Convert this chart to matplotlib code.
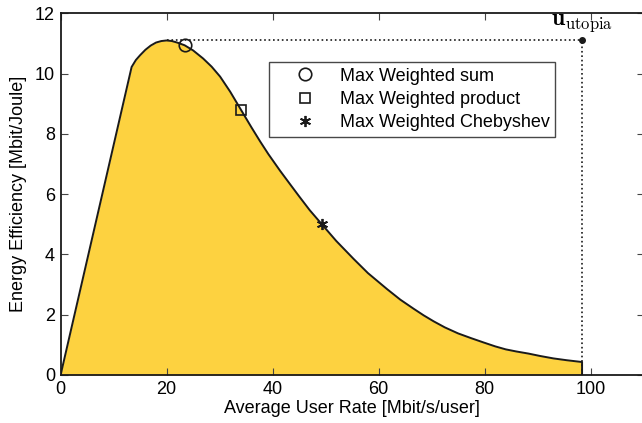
import matplotlib
matplotlib.use('Agg')
import matplotlib.pyplot as plt

plt.rcParams['font.family'] = ['Liberation Sans', 'DejaVu Sans']
plt.rcParams['mathtext.fontset'] = 'cm'

# Pareto boundary: average user rate vs energy efficiency
rate = [0, 13.4, 14.2, 15.0, 16.0, 17.0, 18.0, 19.0, 20.0, 21.0, 22.0, 23.4,
        25.0, 26.9, 28.5, 30.1, 32.0, 34.1, 36.0, 37.65, 39.2, 41.4, 43.3, 45.0,
        47.0, 49.3, 52.0, 55.3, 58.0, 61.6, 64.1, 66.6, 68.5, 70.4, 72.5, 75.0,
        77.5, 79.8, 82.0, 84.0, 86.0, 88.3, 90.5, 93.0, 95.5, 98.4, 98.4]
eff = [0, 10.22, 10.45, 10.61, 10.79, 10.93, 11.03, 11.08, 11.10, 11.08, 11.03, 10.94,
       10.77, 10.50, 10.23, 9.90, 9.40, 8.78, 8.22, 7.75, 7.33, 6.78, 6.33, 5.93,
       5.47, 5.00, 4.45, 3.85, 3.38, 2.85, 2.50, 2.20, 1.98, 1.78, 1.58, 1.38,
       1.22, 1.08, 0.95, 0.85, 0.78, 0.71, 0.63, 0.55, 0.49, 0.43, 0]

# operating points
sum_pt = (23.4, 10.94)
prod_pt = (34.1, 8.78)
cheb_pt = (49.3, 5.00)
utopia = (98.4, 11.10)

fill_color = '#FDD240'
ink = '#1a1a1a'

fig = plt.figure(figsize=(6.42, 4.23), dpi=100)
ax = fig.add_axes([0.0944, 0.1135, 0.908, 0.855])

ax.fill_between(rate, eff, 0, color=fill_color, linewidth=0)
ax.plot(rate, eff, color=ink, linewidth=1.4, solid_joinstyle='round')

# dotted utopia lines
ax.plot([20.0, utopia[0]], [utopia[1], utopia[1]], color=ink, linestyle=':', linewidth=1.2)
ax.plot([utopia[0], utopia[0]], [0, utopia[1]], color=ink, linestyle=':', linewidth=1.2)
ax.plot([utopia[0]], [utopia[1]], 'o', color=ink, markersize=4)
ax.text(utopia[0], utopia[1] + 0.2, r'$\mathbf{u}_{\mathrm{utopia}}$',
        ha='center', va='bottom', fontsize=17)

ax.plot(*sum_pt, 'o', markerfacecolor='none', markeredgecolor=ink,
        markersize=9, markeredgewidth=1.2, label='Max Weighted sum')
ax.plot(*prod_pt, 's', markerfacecolor='none', markeredgecolor=ink,
        markersize=7, markeredgewidth=1.2, label='Max Weighted product')
ax.plot(*cheb_pt, marker=(6, 2, 0), color=ink, linestyle='none',
        markersize=8, markeredgewidth=1.3, label='Max Weighted Chebyshev')

leg = ax.legend(loc='upper left', bbox_to_anchor=(0.358, 0.865), fontsize=13,
                frameon=True, fancybox=False, edgecolor=ink,
                handlelength=3.4, handletextpad=0.2, borderpad=0.3,
                labelspacing=0.35, borderaxespad=0)
leg.get_frame().set_linewidth(1.0)

ax.set_xlim(0, 110)
ax.set_ylim(0, 12)
ax.set_xticks([0, 20, 40, 60, 80, 100])
ax.set_yticks([0, 2, 4, 6, 8, 10, 12])
ax.tick_params(direction='in', top=True, right=True, length=5, width=0.8,
               labelsize=13, color='#444444', pad=4)
for s in ax.spines.values():
    s.set_linewidth(1.3)
    s.set_color(ink)

ax.set_xlabel('Average User Rate [Mbit/s/user]', fontsize=13, labelpad=2)
ax.set_ylabel('Energy Efficiency [Mbit/Joule]', fontsize=13, labelpad=6)

fig.savefig('out.png', dpi=100)
